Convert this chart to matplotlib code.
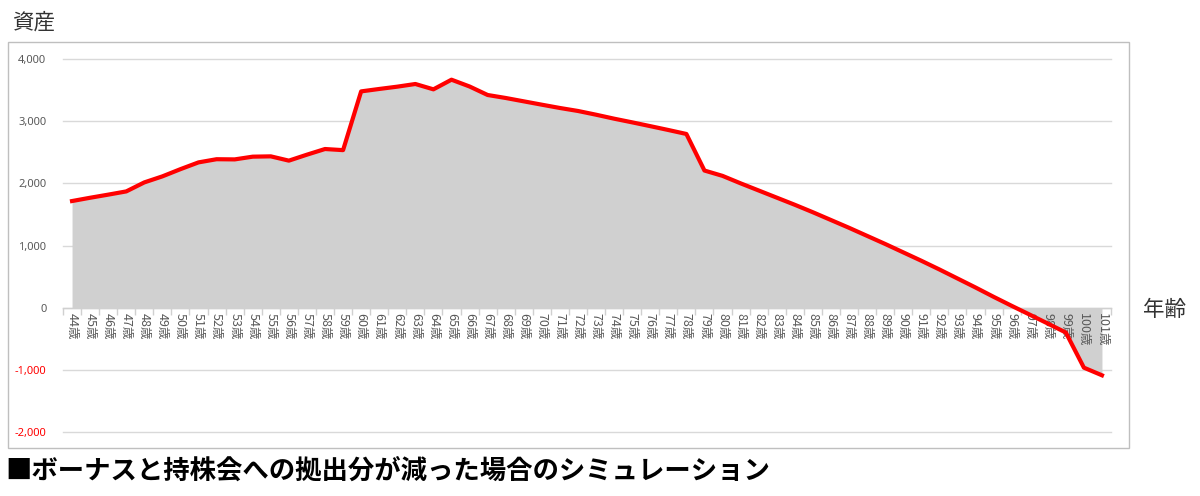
import matplotlib
matplotlib.use("Agg")
import matplotlib.pyplot as plt
from matplotlib.patches import Rectangle
import numpy as np

plt.rcParams['font.family'] = ['Noto Sans CJK JP', 'DejaVu Sans']

# ---- data ----
ages = list(range(44, 102))
age_labels = [f"{a}歳" for a in ages]
assets = [
    1715, 1768, 1818, 1870, 2015, 2112, 2228, 2337, 2388, 2385,   # 44-53
    2429, 2434, 2365, 2461, 2552, 2534, 3479, 3518, 3555, 3598,   # 54-63
    3512, 3667, 3558, 3421, 3373, 3319, 3265, 3212, 3164, 3104,   # 64-73
    3040, 2981, 2920, 2858, 2794, 2206, 2120, 2000, 1885, 1770,   # 74-83
    1655, 1535, 1410, 1285, 1155, 1025, 890, 755, 615, 470,       # 84-93
    325, 175, 30, -112, -255, -400, -965, -1088,                   # 94-101
]
y_ticks = [-2000, -1000, 0, 1000, 2000, 3000, 4000]
y_title = "資産"
x_title = "年齢"
chart_title = "■ボーナスと持株会への拠出分が減った場合のシミュレーション"

W, H = 1200, 496
fig = plt.figure(figsize=(W / 100, H / 100), dpi=100)

left, right, top, bottom = 63, 1111, 59, 432
ax = fig.add_axes([left / W, 1 - bottom / H, (right - left) / W, (bottom - top) / H])

x = np.arange(len(ages))
ax.fill_between(x, 0, assets, color='#d0d0d0', linewidth=0, zorder=2)
ax.plot(x, assets, color='#ff0000', lw=3.0, solid_joinstyle='round', zorder=6)

ax.set_xlim(-0.5, len(ages) - 0.5)
ax.set_ylim(-2000, 4000)

for s in ['top', 'right', 'left']:
    ax.spines[s].set_visible(False)
ax.spines['bottom'].set_position(('data', 0))
ax.spines['bottom'].set_color('#d0d0d0')
ax.spines['bottom'].set_linewidth(1.0)
ax.spines['bottom'].set_zorder(3)

# y axis
ax.set_yticks(y_ticks)
ax.set_yticklabels([f"{v:,}" for v in y_ticks])
ax.tick_params(axis='y', length=0, pad=12, labelsize=8, labelcolor='#595959')
for lab, v in zip(ax.get_yticklabels(), y_ticks):
    lab.set_fontfamily(['Noto Sans', 'DejaVu Sans'])
    if v < 0:
        lab.set_color('#ff0000')
        lab.set_fontweight('bold')
ax.grid(axis='y', color='#d9d9d9', lw=1.0)
for gl in ax.get_ygridlines():
    gl.set_clip_on(False)
ax.yaxis.set_zorder(1)

# x axis: ticks between categories, labels at categories
ax.set_xticks(np.arange(-0.5, len(ages), 1.0))
ax.set_xticklabels([])
ax.tick_params(axis='x', which='major', length=5, width=1, color='#d0d0d0', direction='out')
ax.set_xticks(x, minor=True)
ax.set_xticklabels(age_labels, minor=True, rotation=-90, fontsize=9, color='#595959')
ax.tick_params(axis='x', which='minor', length=0, pad=4)
ax.xaxis.set_zorder(5)

# frame
fig.patches.append(Rectangle((8 / W, 1 - 448 / H), (1129 - 8) / W, (448 - 42) / H,
                             transform=fig.transFigure, fill=False,
                             edgecolor='#bfbfbf', lw=1.0))

fig.text(12 / W, 1 - 23 / H, y_title, fontsize=15.5, color='#333333', ha='left', va='center')
fig.text(1143 / W, 1 - 310 / H, x_title, fontsize=15.5, color='#333333', ha='left', va='center')
fig.text(5 / W, 1 - 471 / H, chart_title, fontsize=19, fontweight='bold',
         color='#000000', ha='left', va='center')

fig.savefig('out.png', dpi=100, facecolor='white')
